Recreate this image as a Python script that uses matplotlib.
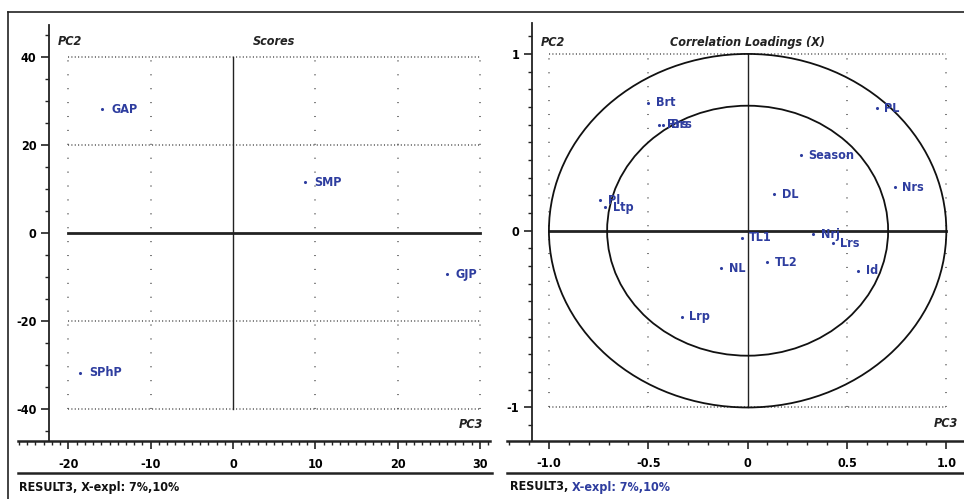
import numpy as np
import matplotlib
matplotlib.use("Agg")
import matplotlib.pyplot as plt
from matplotlib.lines import Line2D
from matplotlib.patches import Ellipse
from matplotlib.ticker import MultipleLocator, FixedLocator
from matplotlib import font_manager

plt.rcParams['font.family'] = ['DejaVu Sans']
plt.rcParams['font.stretch'] = 'condensed'
plt.rcParams['axes.unicode_minus'] = False

# ---- data -------------------------------------------------------------
score_names = ["GAP", "SMP", "GJP", "SPhP"]
score_pc3 = [-15.9, 8.8, 26.0, -18.6]
score_pc2 = [28.2, 11.6, -9.3, -31.7]

load_names = ["Brt", "Rrs", "Brs", "Pl", "Ltp", "PL", "Season", "Nrs", "DL",
              "TL1", "Nrj", "Lrs", "Id", "TL2", "NL", "Lrp"]
load_pc3 = [-0.50, -0.446, -0.425, -0.743, -0.718, 0.649, 0.268, 0.74, 0.134,
            -0.03, 0.33, 0.428, 0.555, 0.10, -0.133, -0.331]
load_pc2 = [0.724, 0.598, 0.598, 0.172, 0.132, 0.692, 0.428, 0.245, 0.206,
            -0.04, -0.02, -0.07, -0.226, -0.179, -0.213, -0.486]

score_xticks = [-20, -10, 0, 10, 20, 30]
score_yticks = [-40, -20, 0, 20, 40]
load_xticks = [-1.0, -0.5, 0.0, 0.5, 1.0]
load_xticklabels = ["-1.0", "-0.5", "0", "0.5", "1.0"]
load_yticks = [-1, 0, 1]

footer_a = "RESULT3, "
footer_b = "X-expl: 7%,10%"

BLUE = "#2e3d9f"
DARK = "#222222"
DOT = "#555555"

W, H = 964, 499
fig = plt.figure(figsize=(W / 100, H / 100), dpi=100)


def fx(px):
    return px / W


def fy(py):
    return 1 - py / H


def px_axes(left, top, right, bottom):
    return fig.add_axes([fx(left), fy(bottom), fx(right) - fx(left), fy(top) - fy(bottom)])


def style_axes(ax, xlim, ylim, spine_x, xmaj, xmin, ymaj, ymin, xlabels=None):
    ax.set_xlim(*xlim)
    ax.set_ylim(*ylim)
    ax.patch.set_alpha(0)
    for s in ("top", "right"):
        ax.spines[s].set_visible(False)
    ax.spines["left"].set_position(("data", spine_x))
    ax.spines["left"].set_linewidth(1.3)
    ax.spines["left"].set_color(DARK)
    ax.spines["bottom"].set_linewidth(1.8)
    ax.spines["bottom"].set_color(DARK)
    ax.xaxis.set_major_locator(FixedLocator(xmaj))
    ax.xaxis.set_minor_locator(MultipleLocator(xmin))
    ax.yaxis.set_major_locator(FixedLocator(ymaj))
    ax.yaxis.set_minor_locator(MultipleLocator(ymin))
    if xlabels is not None:
        ax.set_xticklabels(xlabels)
    ax.tick_params(axis="both", which="major", direction="out", length=6,
                   width=1.2, color=DARK, labelsize=9, pad=3)
    ax.tick_params(axis="both", which="minor", direction="out", length=3,
                   width=1.0, color=DARK)
    ax.tick_params(axis="x", which="major", pad=6)
    for lab in ax.get_xticklabels() + ax.get_yticklabels():
        lab.set_fontweight("bold")
        lab.set_fontstretch("condensed")


def grid(ax, xs, ys, xr, yr):
    for x in xs:
        if x == 0:
            ax.plot([0, 0], yr, color=DARK, lw=1.0, zorder=2)
        else:
            ax.plot([x, x], yr, color=DOT, lw=1.1, ls=(0, (0.7, 8.4)), zorder=1)
    for y in ys:
        if y == 0:
            ax.plot(xr, [0, 0], color=DARK, lw=2.0, zorder=2)
        else:
            ax.plot(xr, [y, y], color=DOT, lw=1.1, ls=(0, (0.7, 1.5)), zorder=1)


def points(ax, xs, ys, names, off):
    ax.scatter(xs, ys, s=5, color=BLUE, zorder=4, linewidths=0)
    for x, y, n in zip(xs, ys, names):
        ax.annotate(n, (x, y), xytext=(off, 0), textcoords="offset points",
                    ha="left", va="center", color=BLUE, fontsize=9,
                    fontweight="bold", fontstretch="condensed", zorder=5)


def label(ax, x, y, s, ha, size=9):
    ax.text(x, y, s, ha=ha, va="center", fontsize=size, style="italic",
            fontweight="bold", fontstretch="condensed", color=DARK)


# ---- Scores -----------------------------------------------------------
ax1 = px_axes(18, 25, 490, 441)
style_axes(ax1, (-26.12, 31.23), (-47.2, 47.3), -22.36,
           score_xticks, 1, score_yticks, 5)
grid(ax1, score_xticks[:-1] + [30], score_yticks, (-20, 30), (-40, 40))
points(ax1, score_pc3, score_pc2, score_names, 6.5)
label(ax1, 5, 43.6, "Scores", "center")
label(ax1, -21.3, 43.6, "PC2", "left")
label(ax1, 30.4, -43.5, "PC3", "right")

# ---- Correlation loadings --------------------------------------------
ax2 = px_axes(507, 23, 964, 440.7)
style_axes(ax2, (-1.211, 1.089), (-1.188, 1.175), -1.087,
           load_xticks, 0.1, load_yticks, 0.1, load_xticklabels)
grid(ax2, load_xticks, load_yticks, (-1, 1), (-1, 1))
for r in (1.0, np.sqrt(0.5)):
    ax2.add_patch(Ellipse((0, 0), 2 * r, 2 * r, fill=False, ec="#111111",
                          lw=1.3, zorder=3))
points(ax2, load_pc3, load_pc2, load_names, 5.5)
label(ax2, 0, 1.065, "Correlation Loadings (X)", "center")
label(ax2, -1.04, 1.065, "PC2", "left")
label(ax2, 1.06, -1.09, "PC3", "right")

# ---- frame, footer rules and footer text ------------------------------
lines = [
    ((8, 964), (12, 12), 1.2),
    ((8, 8), (12, 499), 1.2),
    ((18, 492), (473, 473), 1.8),
    ((507, 964), (473, 473), 1.8),
]
for xs, ys, lw in lines:
    fig.add_artist(Line2D([fx(x) for x in xs], [fy(y) for y in ys],
                          color=DARK, lw=lw))

ftxt = dict(ha="left", va="center", fontsize=9, fontweight="bold",
            fontstretch="condensed")
fig.text(fx(19), fy(487), footer_a + footer_b, color="#111111", **ftxt)
t = fig.text(fx(510), fy(487), footer_a, color="#111111", **ftxt)
fig.canvas.draw()
bb = t.get_window_extent()
fig.text(bb.x1 / W, fy(487), footer_b, color=BLUE, **ftxt)

fig.savefig("out.png", dpi=100, facecolor="white")
